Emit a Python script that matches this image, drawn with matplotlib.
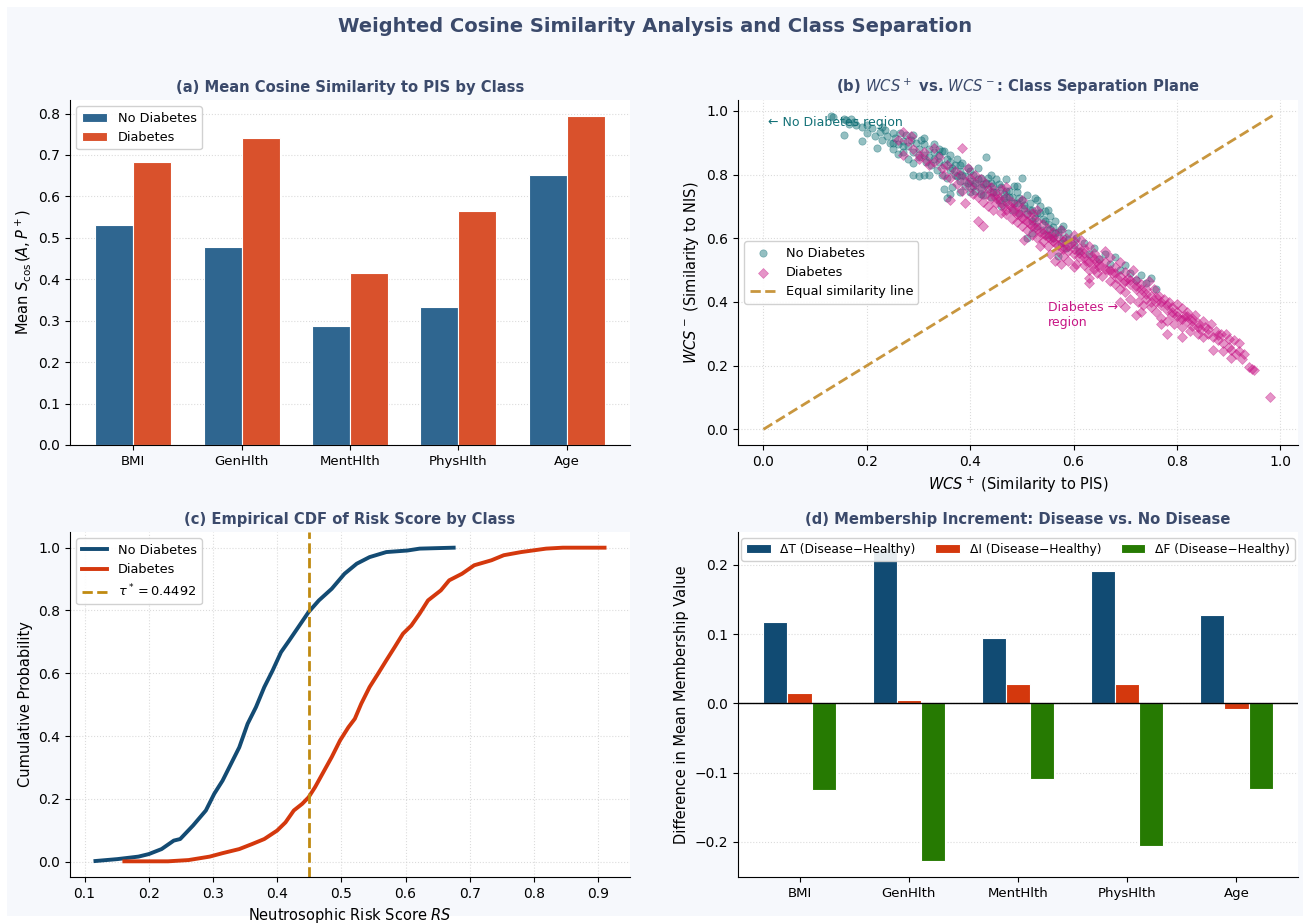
import matplotlib
matplotlib.use("Agg")
import matplotlib.pyplot as plt
from matplotlib.patches import Rectangle
import numpy as np

# ---------------- data ----------------
features = ["BMI", "GenHlth", "MentHlth", "PhysHlth", "Age"]
cos_no_diab = [0.532, 0.478, 0.288, 0.333, 0.651]
cos_diab = [0.682, 0.740, 0.414, 0.564, 0.793]

delta_T = [0.118, 0.225, 0.095, 0.192, 0.128]
delta_I = [0.015, 0.005, 0.028, 0.028, -0.008]
delta_F = [-0.125, -0.228, -0.109, -0.206, -0.124]

tau_star = 0.4492

cdf_no_x = [0.117, 0.151, 0.184, 0.200, 0.220, 0.239, 0.249, 0.269, 0.289, 0.302,
            0.315, 0.328, 0.341, 0.354, 0.367, 0.380, 0.393, 0.406, 0.419, 0.433,
            0.449, 0.465, 0.485, 0.505, 0.524, 0.544, 0.570, 0.603, 0.622, 0.675]
cdf_no_y = [0.002, 0.008, 0.016, 0.024, 0.040, 0.067, 0.072, 0.115, 0.163, 0.216,
            0.258, 0.311, 0.364, 0.439, 0.492, 0.556, 0.609, 0.667, 0.705, 0.747,
            0.795, 0.832, 0.869, 0.917, 0.949, 0.970, 0.986, 0.991, 0.997, 1.000]
cdf_d_x = [0.162, 0.230, 0.262, 0.295, 0.315, 0.341, 0.361, 0.380, 0.400, 0.413,
           0.426, 0.439, 0.449, 0.459, 0.472, 0.485, 0.498, 0.511, 0.521, 0.531,
           0.544, 0.557, 0.570, 0.583, 0.596, 0.609, 0.622, 0.635, 0.655, 0.668,
           0.688, 0.707, 0.734, 0.753, 0.780, 0.819, 0.845, 0.910]
cdf_d_y = [0.001, 0.001, 0.005, 0.016, 0.027, 0.040, 0.056, 0.072, 0.099, 0.125,
           0.163, 0.184, 0.205, 0.237, 0.285, 0.333, 0.386, 0.428, 0.455, 0.503,
           0.556, 0.598, 0.641, 0.683, 0.726, 0.752, 0.790, 0.832, 0.864, 0.896,
           0.917, 0.944, 0.960, 0.976, 0.986, 0.997, 1.000, 1.000]

wcs_no = [
    (0.13, 0.985), (0.135, 0.98), (0.155, 0.975), (0.16, 0.97), (0.165, 0.96), (0.17, 0.975),
    (0.175, 0.965), (0.155, 0.925), (0.19, 0.905), (0.20, 0.93), (0.18, 0.955), (0.19, 0.95),
    (0.20, 0.955), (0.21, 0.945), (0.215, 0.92), (0.22, 0.885), (0.225, 0.935), (0.23, 0.91),
    (0.235, 0.94), (0.24, 0.92), (0.245, 0.90), (0.25, 0.93), (0.25, 0.88), (0.255, 0.915),
    (0.26, 0.865), (0.26, 0.895), (0.265, 0.93), (0.27, 0.905), (0.27, 0.87), (0.275, 0.925),
    (0.28, 0.89), (0.28, 0.85), (0.285, 0.91), (0.29, 0.87), (0.29, 0.835), (0.295, 0.90),
    (0.30, 0.88), (0.30, 0.855), (0.29, 0.80), (0.30, 0.795), (0.31, 0.80), (0.32, 0.80),
    (0.305, 0.91), (0.31, 0.86), (0.31, 0.895), (0.315, 0.84), (0.32, 0.88), (0.32, 0.855),
    (0.325, 0.83), (0.33, 0.895), (0.33, 0.87), (0.335, 0.815), (0.34, 0.86), (0.34, 0.84),
    (0.345, 0.80), (0.35, 0.875), (0.35, 0.83), (0.355, 0.85), (0.355, 0.79), (0.36, 0.815),
    (0.36, 0.84), (0.365, 0.76), (0.37, 0.83), (0.37, 0.80), (0.375, 0.85), (0.38, 0.78),
    (0.38, 0.81), (0.385, 0.835), (0.39, 0.795), (0.39, 0.765), (0.395, 0.82), (0.40, 0.78),
    (0.40, 0.745), (0.36, 0.74), (0.35, 0.755), (0.355, 0.725), (0.38, 0.745), (0.405, 0.80),
    (0.41, 0.775), (0.41, 0.75), (0.415, 0.82), (0.42, 0.76), (0.42, 0.79), (0.425, 0.735),
    (0.43, 0.855), (0.43, 0.775), (0.435, 0.755), (0.44, 0.80), (0.44, 0.73), (0.445, 0.765),
    (0.45, 0.745), (0.45, 0.785), (0.455, 0.72), (0.46, 0.76), (0.46, 0.70), (0.465, 0.74),
    (0.47, 0.785), (0.47, 0.715), (0.475, 0.75), (0.48, 0.73), (0.48, 0.69), (0.485, 0.765),
    (0.49, 0.71), (0.49, 0.745), (0.495, 0.68), (0.50, 0.72), (0.50, 0.79), (0.505, 0.695),
    (0.51, 0.735), (0.51, 0.675), (0.515, 0.71), (0.52, 0.69), (0.52, 0.655), (0.525, 0.725),
    (0.53, 0.68), (0.53, 0.64), (0.535, 0.70), (0.54, 0.66), (0.54, 0.625), (0.545, 0.685),
    (0.55, 0.645), (0.55, 0.61), (0.555, 0.67), (0.56, 0.635), (0.56, 0.60), (0.565, 0.655),
    (0.57, 0.62), (0.575, 0.585), (0.58, 0.64), (0.58, 0.60), (0.585, 0.57), (0.59, 0.615),
    (0.60, 0.58), (0.51, 0.60), (0.52, 0.615), (0.57, 0.545), (0.605, 0.60), (0.61, 0.56),
    (0.62, 0.585), (0.63, 0.55), (0.64, 0.57), (0.65, 0.535), (0.66, 0.55), (0.67, 0.52),
    (0.68, 0.54), (0.69, 0.50), (0.70, 0.515), (0.71, 0.49), (0.72, 0.47), (0.73, 0.485),
    (0.74, 0.46), (0.75, 0.475), (0.76, 0.44),
    (0.33, 0.85), (0.345, 0.875), (0.365, 0.82), (0.375, 0.795), (0.385, 0.80), (0.395, 0.775),
    (0.405, 0.765), (0.415, 0.785), (0.425, 0.77), (0.435, 0.79), (0.445, 0.745), (0.455, 0.77),
    (0.465, 0.725), (0.475, 0.73), (0.485, 0.71), (0.495, 0.725), (0.505, 0.705), (0.515, 0.69),
    (0.525, 0.665), (0.535, 0.68), (0.545, 0.655), (0.555, 0.63), (0.565, 0.615), (0.575, 0.63),
    (0.44, 0.775), (0.42, 0.74), (0.40, 0.81), (0.38, 0.83), (0.36, 0.86), (0.34, 0.88),
    (0.31, 0.915), (0.29, 0.925), (0.27, 0.89), (0.25, 0.90), (0.23, 0.95), (0.47, 0.75),
    (0.49, 0.765), (0.53, 0.72), (0.55, 0.69), (0.59, 0.595),
]

wcs_d = [
    (0.27, 0.935), (0.26, 0.91), (0.285, 0.92), (0.29, 0.88), (0.30, 0.85), (0.27, 0.86),
    (0.31, 0.87), (0.32, 0.83), (0.33, 0.84), (0.34, 0.855), (0.28, 0.905), (0.315, 0.845),
    (0.345, 0.82), (0.30, 0.86), (0.33, 0.885), (0.385, 0.885), (0.36, 0.72), (0.35, 0.80),
    (0.355, 0.83), (0.36, 0.79), (0.37, 0.81), (0.375, 0.77), (0.38, 0.80), (0.385, 0.75),
    (0.39, 0.78), (0.395, 0.82), (0.40, 0.76), (0.40, 0.79), (0.405, 0.74), (0.41, 0.77),
    (0.41, 0.80), (0.415, 0.73), (0.42, 0.755), (0.42, 0.785), (0.425, 0.715), (0.43, 0.74),
    (0.43, 0.77), (0.435, 0.70), (0.44, 0.725), (0.44, 0.76), (0.445, 0.69), (0.45, 0.74),
    (0.45, 0.71), (0.415, 0.655), (0.425, 0.64), (0.39, 0.71), (0.46, 0.68), (0.455, 0.725),
    (0.46, 0.755), (0.465, 0.70), (0.47, 0.675), (0.47, 0.73), (0.475, 0.705), (0.48, 0.66),
    (0.48, 0.715), (0.485, 0.685), (0.49, 0.65), (0.49, 0.70), (0.495, 0.675), (0.50, 0.64),
    (0.50, 0.695), (0.505, 0.66), (0.51, 0.625), (0.51, 0.68), (0.515, 0.645), (0.52, 0.61),
    (0.52, 0.665), (0.525, 0.635), (0.53, 0.60), (0.53, 0.655), (0.535, 0.62), (0.54, 0.59),
    (0.54, 0.645), (0.545, 0.61), (0.55, 0.575), (0.55, 0.63), (0.505, 0.595), (0.535, 0.575),
    (0.555, 0.55), (0.565, 0.53), (0.53, 0.69), (0.50, 0.72), (0.47, 0.76), (0.555, 0.60),
    (0.56, 0.62), (0.565, 0.585), (0.57, 0.56), (0.57, 0.605), (0.575, 0.625), (0.58, 0.575),
    (0.58, 0.545), (0.585, 0.60), (0.59, 0.56), (0.59, 0.53), (0.595, 0.585), (0.60, 0.55),
    (0.60, 0.61), (0.605, 0.52), (0.61, 0.57), (0.61, 0.54), (0.615, 0.595), (0.62, 0.515),
    (0.62, 0.555), (0.625, 0.53), (0.63, 0.575), (0.63, 0.50), (0.635, 0.545), (0.64, 0.52),
    (0.64, 0.555), (0.645, 0.49), (0.65, 0.535), (0.65, 0.51), (0.63, 0.475), (0.63, 0.46),
    (0.60, 0.51), (0.575, 0.52), (0.66, 0.56), (0.655, 0.48), (0.66, 0.525), (0.665, 0.50),
    (0.67, 0.465), (0.67, 0.54), (0.675, 0.49), (0.68, 0.455), (0.68, 0.51), (0.685, 0.475),
    (0.69, 0.44), (0.69, 0.525), (0.695, 0.46), (0.70, 0.495), (0.70, 0.43), (0.705, 0.475),
    (0.71, 0.41), (0.71, 0.455), (0.715, 0.50), (0.72, 0.44), (0.72, 0.47), (0.725, 0.40),
    (0.73, 0.455), (0.73, 0.425), (0.735, 0.39), (0.74, 0.44), (0.74, 0.41), (0.745, 0.465),
    (0.75, 0.42), (0.75, 0.385), (0.69, 0.40), (0.70, 0.385), (0.73, 0.37), (0.72, 0.36),
    (0.755, 0.44), (0.76, 0.40), (0.76, 0.37), (0.765, 0.42), (0.77, 0.39), (0.77, 0.35),
    (0.775, 0.41), (0.78, 0.375), (0.78, 0.34), (0.785, 0.40), (0.79, 0.36), (0.79, 0.385),
    (0.795, 0.33), (0.80, 0.37), (0.80, 0.395), (0.805, 0.345), (0.81, 0.38), (0.81, 0.32),
    (0.815, 0.355), (0.82, 0.34), (0.82, 0.37), (0.825, 0.31), (0.83, 0.35), (0.83, 0.325),
    (0.835, 0.36), (0.84, 0.30), (0.84, 0.335), (0.845, 0.315), (0.85, 0.34), (0.78, 0.30),
    (0.77, 0.33), (0.81, 0.29), (0.85, 0.29), (0.855, 0.32), (0.86, 0.30), (0.865, 0.33),
    (0.87, 0.29), (0.875, 0.31), (0.88, 0.28), (0.885, 0.30), (0.89, 0.27), (0.895, 0.30),
    (0.90, 0.26), (0.905, 0.25), (0.91, 0.28), (0.915, 0.235), (0.92, 0.27), (0.925, 0.22),
    (0.93, 0.235), (0.94, 0.195), (0.945, 0.19), (0.95, 0.185), (0.905, 0.225), (0.87, 0.25),
    (0.89, 0.245), (0.92, 0.245), (0.98, 0.10),
    (0.44, 0.745), (0.46, 0.71), (0.48, 0.695), (0.49, 0.675), (0.51, 0.655), (0.52, 0.64),
    (0.53, 0.63), (0.54, 0.615), (0.55, 0.605), (0.56, 0.59), (0.57, 0.58), (0.58, 0.565),
    (0.59, 0.575), (0.60, 0.565), (0.61, 0.555), (0.62, 0.54), (0.63, 0.525), (0.64, 0.535),
    (0.65, 0.52), (0.66, 0.505), (0.67, 0.50), (0.68, 0.49), (0.69, 0.48), (0.70, 0.465),
    (0.71, 0.47), (0.72, 0.45), (0.73, 0.44), (0.74, 0.425), (0.75, 0.40), (0.76, 0.415),
    (0.77, 0.40), (0.78, 0.39), (0.79, 0.37), (0.80, 0.355), (0.81, 0.345), (0.82, 0.355),
    (0.83, 0.34), (0.84, 0.32), (0.86, 0.315), (0.88, 0.295), (0.90, 0.285), (0.45, 0.725),
    (0.47, 0.69), (0.50, 0.665), (0.52, 0.68), (0.56, 0.605), (0.58, 0.59), (0.60, 0.59),
    (0.62, 0.57), (0.64, 0.505),
]
equal_line = [0.0, 0.985]

# ---------------- style ----------------
BG = "#f6f8fc"
TITLE_C = "#3b4a6b"
C_NO = "#2f6690"
C_D = "#d9512c"
C_NO_LINE = "#134b73"
C_D_LINE = "#d4380d"
C_T = "#114b73"
C_I = "#d4380d"
C_F = "#267a02"
C_TEAL = "#137177"
C_MAG = "#c71585"
C_GOLD = "#c8963e"
C_TAU = "#c08a10"

plt.rcParams["font.family"] = ["DejaVu Sans"]
plt.rcParams["font.size"] = 10

fig = plt.figure(figsize=(13.1, 9.23), dpi=100, facecolor="white")
fig.patches.append(Rectangle((7 / 1310, 7 / 923), 1 - 14 / 1310, 1 - 14 / 923,
                             transform=fig.transFigure, facecolor=BG,
                             edgecolor="none", zorder=-10))

W, H = 1310, 923
def ax_at(l, t, r, b):
    return fig.add_axes([l / W, 1 - b / H, (r - l) / W, (b - t) / H])

axA = ax_at(70, 100, 630, 445)
axB = ax_at(738, 100, 1298, 445)
axC = ax_at(70, 532, 630, 877)
axD = ax_at(738, 532, 1298, 877)

def style(ax):
    ax.set_facecolor("white")
    ax.spines["top"].set_visible(False)
    ax.spines["right"].set_visible(False)
    ax.grid(True, linestyle=":", color="#cccccc", alpha=0.7, linewidth=0.8)
    ax.set_axisbelow(True)

fig.suptitle("Weighted Cosine Similarity Analysis and Class Separation",
             fontsize=14, fontweight="bold", color=TITLE_C, y=0.982)

TFS = 10.6

# (a)
style(axA)
axA.grid(False, axis="x")
x = np.arange(len(features))
bw = 0.35
axA.bar(x - bw / 2, cos_no_diab, bw, color=C_NO, edgecolor="white", linewidth=0.8, label="No Diabetes")
axA.bar(x + bw / 2, cos_diab, bw, color=C_D, edgecolor="white", linewidth=0.8, label="Diabetes")
axA.set_xticks(x)
axA.set_xticklabels(features, fontsize=9.5)
axA.set_ylabel(r"Mean $S_{\cos}(A, P^+)$", fontsize=10.5)
axA.set_title("(a) Mean Cosine Similarity to PIS by Class", fontsize=TFS, fontweight="bold", color=TITLE_C)
axA.legend(loc="upper left", fontsize=9.3, framealpha=0.9)

# (b)
style(axB)
bx_no = [p[0] for p in wcs_no]
by_no = [p[1] for p in wcs_no]
bx_d = [p[0] for p in wcs_d]
by_d = [p[1] for p in wcs_d]
axB.scatter(bx_no, by_no, s=28, marker="o", color=C_TEAL, alpha=0.45, linewidths=0.5,
            label="No Diabetes")
axB.scatter(bx_d, by_d, s=26, marker="D", color=C_MAG, alpha=0.45, linewidths=0.5,
            label="Diabetes")
axB.plot(equal_line, equal_line, linestyle="--", color=C_GOLD, linewidth=2,
         label="Equal similarity line")
axB.text(0.008, 0.965, "← No Diabetes region", color=C_TEAL, fontsize=9, va="center", ha="left")
axB.text(0.55, 0.36, "Diabetes →\nregion", color=C_MAG, fontsize=9, va="center", ha="left")
axB.set_xlabel(r"$WCS^+$ (Similarity to PIS)", fontsize=10.5)
axB.set_ylabel(r"$WCS^-$ (Similarity to NIS)", fontsize=10.5)
axB.set_title(r"(b) $WCS^+$ vs. $WCS^-$: Class Separation Plane", fontsize=TFS,
              fontweight="bold", color=TITLE_C)
axB.legend(loc="center left", fontsize=9.3, framealpha=0.9)

# (c)
style(axC)
axC.plot(cdf_no_x, cdf_no_y, color=C_NO_LINE, linewidth=2.8, label="No Diabetes")
axC.plot(cdf_d_x, cdf_d_y, color=C_D_LINE, linewidth=2.8, label="Diabetes")
axC.axvline(tau_star, color=C_TAU, linestyle="--", linewidth=2,
            label=r"$\tau^* = 0.4492$")
axC.set_xlabel(r"Neutrosophic Risk Score $RS$", fontsize=10.5)
axC.set_ylabel("Cumulative Probability", fontsize=10.5)
axC.set_title("(c) Empirical CDF of Risk Score by Class", fontsize=TFS, fontweight="bold", color=TITLE_C)
axC.legend(loc="upper left", fontsize=9.3, framealpha=0.9)

# (d)
style(axD)
axD.grid(False, axis="x")
bw2 = 0.22
axD.bar(x - bw2, delta_T, bw2, color=C_T, edgecolor="white", linewidth=0.8, label="ΔT (Disease−Healthy)")
axD.bar(x, delta_I, bw2, color=C_I, edgecolor="white", linewidth=0.8, label="ΔI (Disease−Healthy)")
axD.bar(x + bw2, delta_F, bw2, color=C_F, edgecolor="white", linewidth=0.8, label="ΔF (Disease−Healthy)")
axD.axhline(0, color="black", linewidth=1)
axD.set_xticks(x)
axD.set_xticklabels(features, fontsize=9.5)
axD.set_yticks([-0.2, -0.1, 0.0, 0.1, 0.2])
axD.set_ylabel("Difference in Mean Membership Value", fontsize=10.5)
axD.set_title("(d) Membership Increment: Disease vs. No Disease", fontsize=TFS,
              fontweight="bold", color=TITLE_C)
axD.legend(loc="upper center", ncol=3, fontsize=8.8, framealpha=0.9, columnspacing=1.6)

fig.savefig("out.png", dpi=100, facecolor="white")
